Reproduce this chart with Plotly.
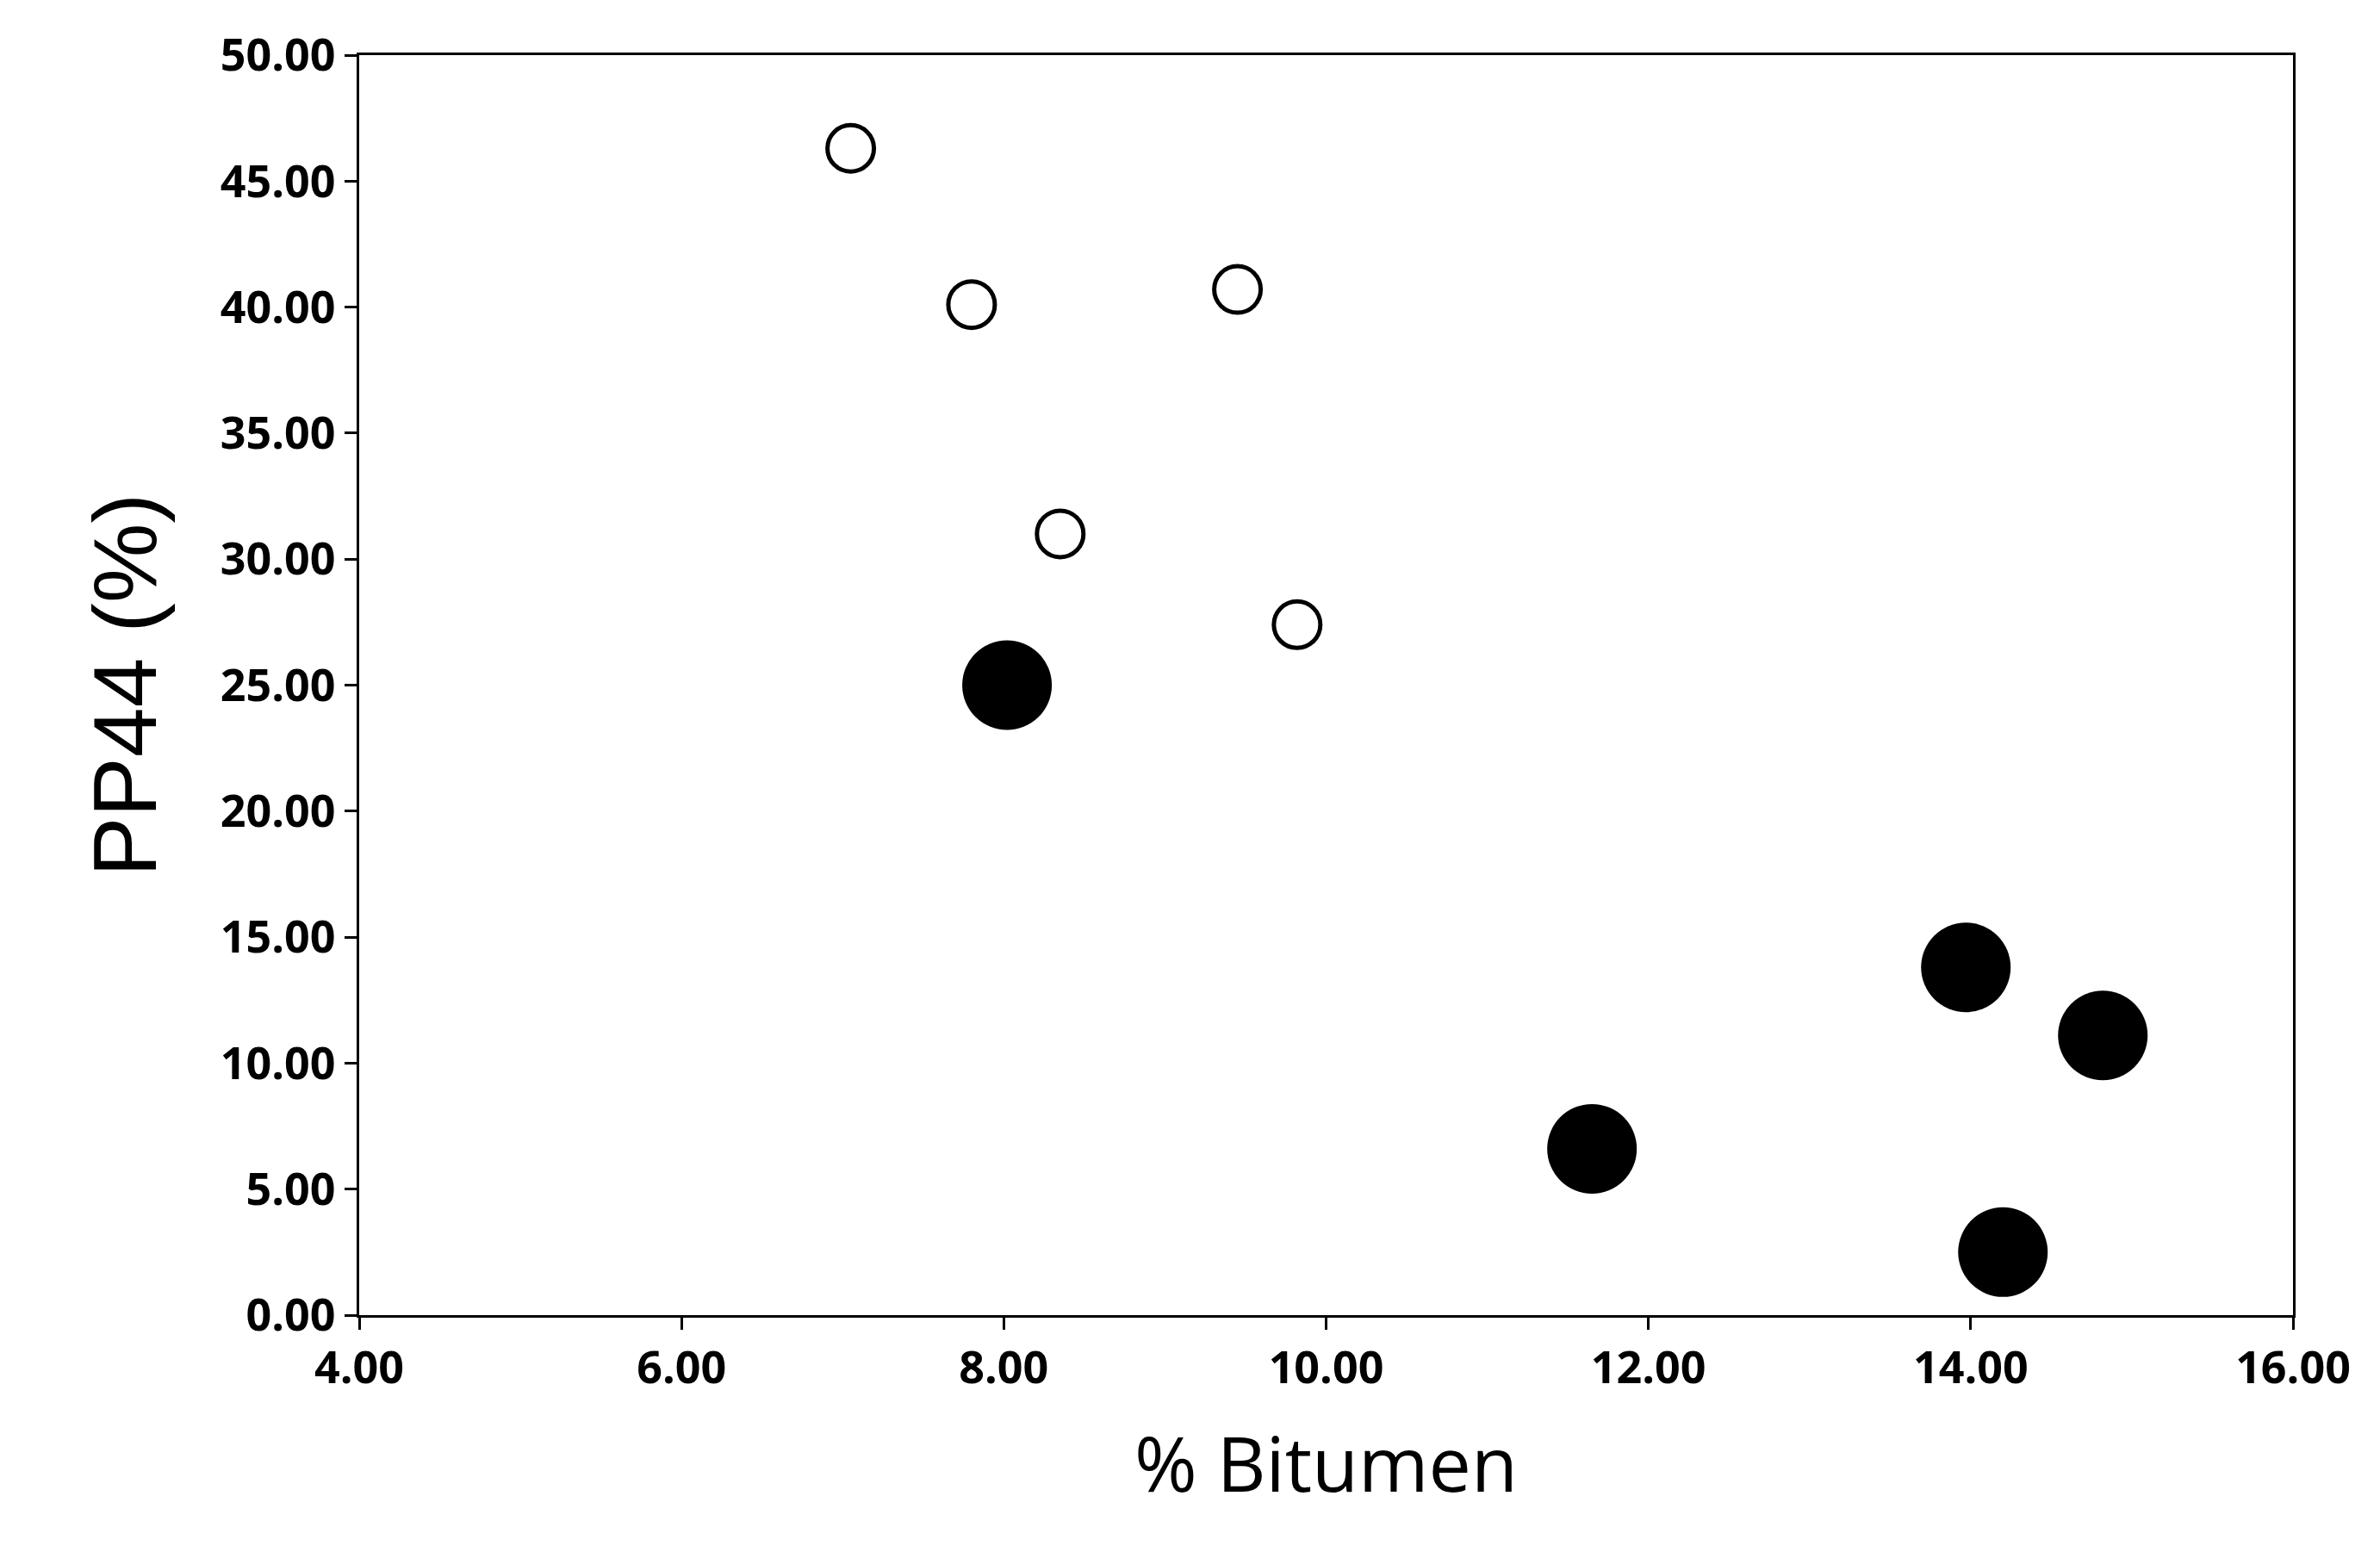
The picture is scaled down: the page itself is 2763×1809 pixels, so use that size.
import plotly.graph_objects as go

# open circles
open_x = [7.05, 7.80, 9.45, 8.35, 9.82]
open_y = [46.3, 40.1, 40.7, 31.0, 27.4]
# filled circles
filled_x = [8.02, 11.65, 13.97, 14.82, 14.20]
filled_y = [25.0, 6.6, 13.8, 11.1, 2.5]

tick_font = dict(family="Open Sans", size=52, color="black", weight="bold")

fig = go.Figure()
fig.add_trace(go.Scatter(
    x=open_x, y=open_y, mode="markers",
    marker=dict(size=54, color="white", line=dict(color="black", width=5)),
))
fig.add_trace(go.Scatter(
    x=filled_x, y=filled_y, mode="markers",
    marker=dict(size=104, color="black", line=dict(color="black", width=0)),
))

axis_common = dict(
    showgrid=False, zeroline=False, showline=True, linecolor="black",
    linewidth=3, mirror=True, ticks="outside", ticklen=14, tickwidth=3,
    tickcolor="black", tickfont=tick_font, tickformat=".2f",
)

fig.update_layout(
    width=2763, height=1809,
    paper_bgcolor="white", plot_bgcolor="white",
    showlegend=False,
    margin=dict(l=409, r=109, t=56, b=290),
    xaxis=dict(range=[4, 16], dtick=2, title=dict(text="% Bitumen", font=dict(family="Open Sans", size=88, color="black"), standoff=50), **axis_common),
    yaxis=dict(range=[0, 50], dtick=5, title=dict(text="PP44 (%)", font=dict(family="Liberation Sans", size=104, color="black"), standoff=40), **axis_common),
)

fig.write_html("out.html")
